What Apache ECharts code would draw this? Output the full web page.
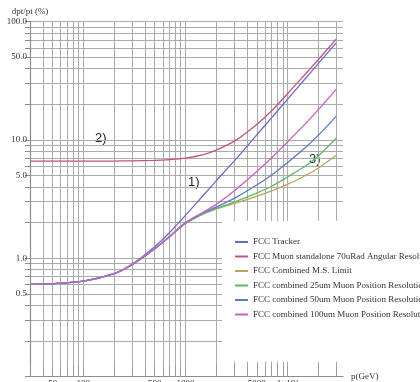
<!DOCTYPE html>
<html>
<head>
<meta charset="utf-8">
<script src="https://cdn.jsdelivr.net/npm/echarts@6/dist/echarts.min.js"></script>
<style>
html,body{margin:0;padding:0;background:#fff;}
#chart{width:420px;height:382px;}
</style>
</head>
<body>
<div id="chart"></div>
<script>
// momentum values (GeV)
const pValues = [30, 50, 100, 200, 300, 500, 700, 1000, 1500, 2000, 3000, 5000, 7000, 10000, 15000, 20000, 30000];
// dpt/pt (%)
const tracker     = [0.60, 0.61, 0.64, 0.74, 0.89, 1.25, 1.65, 2.30, 3.40, 4.50, 6.60, 11.0, 15.4, 22.0, 33.0, 44.0, 66.0];
const standalone  = [6.60, 6.60, 6.60, 6.62, 6.64, 6.70, 6.80, 7.00, 7.50, 8.20, 9.70, 13.5, 17.6, 24.5, 36.0, 47.5, 71.0];
const msLimit     = [0.60, 0.61, 0.64, 0.74, 0.88, 1.20, 1.52, 1.96, 2.36, 2.60, 2.90, 3.33, 3.70, 4.20, 5.00, 5.75, 7.40];
const comb25um    = [0.60, 0.61, 0.64, 0.74, 0.88, 1.20, 1.52, 1.97, 2.39, 2.63, 2.98, 3.55, 4.05, 4.85, 6.00, 7.30, 10.3];
const comb50um    = [0.60, 0.61, 0.64, 0.74, 0.88, 1.20, 1.52, 1.98, 2.42, 2.70, 3.20, 4.15, 5.05, 6.40, 8.60, 10.9, 15.8];
const comb100um   = [0.60, 0.61, 0.64, 0.74, 0.88, 1.20, 1.53, 2.00, 2.45, 2.85, 3.70, 5.40, 7.05, 9.60, 13.7, 17.9, 26.7];

const seriesNames = [
  'FCC Tracker',
  'FCC Muon standalone 70uRad Angular Resolution',
  'FCC Combined M.S. Limit',
  'FCC combined 25um Muon Position Resolution',
  'FCC combined 50um Muon Position Resolution',
  'FCC combined 100um Muon Position Resolution'
];
const seriesData = [tracker, standalone, msLimit, comb25um, comb50um, comb100um];
const seriesColors = ['#6a6ac8', '#c2527f', '#b8a55c', '#5db86d', '#5b7bc4', '#c462c4'];

// axis ticks / grid lines
const xGridValues = [30,40,50,60,70,80,90,100,200,300,400,500,600,700,800,900,1000,2000,3000,4000,5000,6000,7000,8000,9000,10000,20000,30000];
const xLabelValues = [50, 100, 500, 1000, 5000, 10000];
const yGridValues = [0.1,0.2,0.3,0.4,0.5,0.6,0.7,0.8,0.9,1,2,3,4,5,6,7,8,9,10,20,30,40,50,60,70,80,90,100];
const yLabelValues = [0.5, 1, 5, 10, 50, 100];

const serif = 'Liberation Serif';
const chart = echarts.init(document.getElementById('chart'));

const series = seriesNames.map((name, i) => ({
  name: name,
  type: 'line',
  data: pValues.map((p, j) => [p, seriesData[i][j]]),
  smooth: 0.25,
  showSymbol: false,
  symbol: 'none',
  lineStyle: { color: seriesColors[i], width: 1.3 },
  itemStyle: { color: seriesColors[i] },
  animation: false
}));

chart.setOption({
  animation: false,
  backgroundColor: '#ffffff',
  grid: { left: 30, right: 77, top: 21.5, bottom: 5.5, outerBoundsMode: 'none', containLabel: false },
  xAxis: {
    type: 'log',
    min: 30,
    max: 35000,
    name: 'p(GeV)',
    nameLocation: 'end',
    nameGap: 8,
    nameTextStyle: { fontFamily: serif, fontSize: 9, color: '#333', verticalAlign: 'middle' },
    axisLine: { show: true, lineStyle: { color: '#8c8c8c', width: 1 } },
    axisTick: { show: true, inside: true, length: 11, customValues: xGridValues, lineStyle: { color: '#9a9a9a' } },
    axisLabel: {
      show: true,
      customValues: xLabelValues,
      margin: 3,
      fontFamily: serif,
      fontSize: 9,
      color: '#333',
      formatter: v => (Math.abs(v - 10000) < 1e-6 ? '1×10{sup|4}' : String(Math.round(v))),
      rich: { sup: { fontSize: 6, verticalAlign: 'top', fontFamily: serif, color: '#333' } }
    },
    splitLine: { show: true, lineStyle: { color: '#ababab', width: 1 } },
    minorTick: { show: false },
    minorSplitLine: { show: false }
  },
  yAxis: {
    type: 'log',
    min: 0.1,
    max: 100,
    name: 'dpt/pt (%)',
    nameLocation: 'end',
    nameGap: 5,
    nameTextStyle: { fontFamily: serif, fontSize: 9, color: '#333', align: 'center' },
    axisLine: { show: true, lineStyle: { color: '#8c8c8c', width: 1.2 } },
    axisTick: { show: true, inside: false, length: 5, customValues: yGridValues, lineStyle: { color: '#8c8c8c' } },
    axisLabel: {
      show: true,
      customValues: yLabelValues,
      margin: 3,
      fontFamily: serif,
      fontSize: 9,
      color: '#333',
      formatter: v => Number(v).toFixed(1)
    },
    splitLine: { show: true, lineStyle: { color: '#ababab', width: 1 } },
    minorTick: { show: false },
    minorSplitLine: { show: false }
  },
  legend: {
    show: true,
    orient: 'vertical',
    left: 222,
    top: 221,
    padding: [16, 0, 42, 13],
    backgroundColor: '#ffffff',
    itemWidth: 13,
    itemHeight: 2,
    itemGap: 4.5,
    icon: 'rect',
    textStyle: { fontFamily: serif, fontSize: 9, color: '#333', lineHeight: 10 },
    data: seriesNames,
    selectedMode: false
  },
  graphic: [
    { type: 'text', left: 95, top: 132, style: { text: '2)', font: '13px "Liberation Sans"', fill: '#222' } },
    { type: 'text', left: 188, top: 176, style: { text: '1)', font: '13px "Liberation Sans"', fill: '#222' } },
    { type: 'text', left: 309, top: 153, style: { text: '3)', font: '13px "Liberation Sans"', fill: '#222' } }
  ],
  series: series
});
</script>
</body>
</html>
